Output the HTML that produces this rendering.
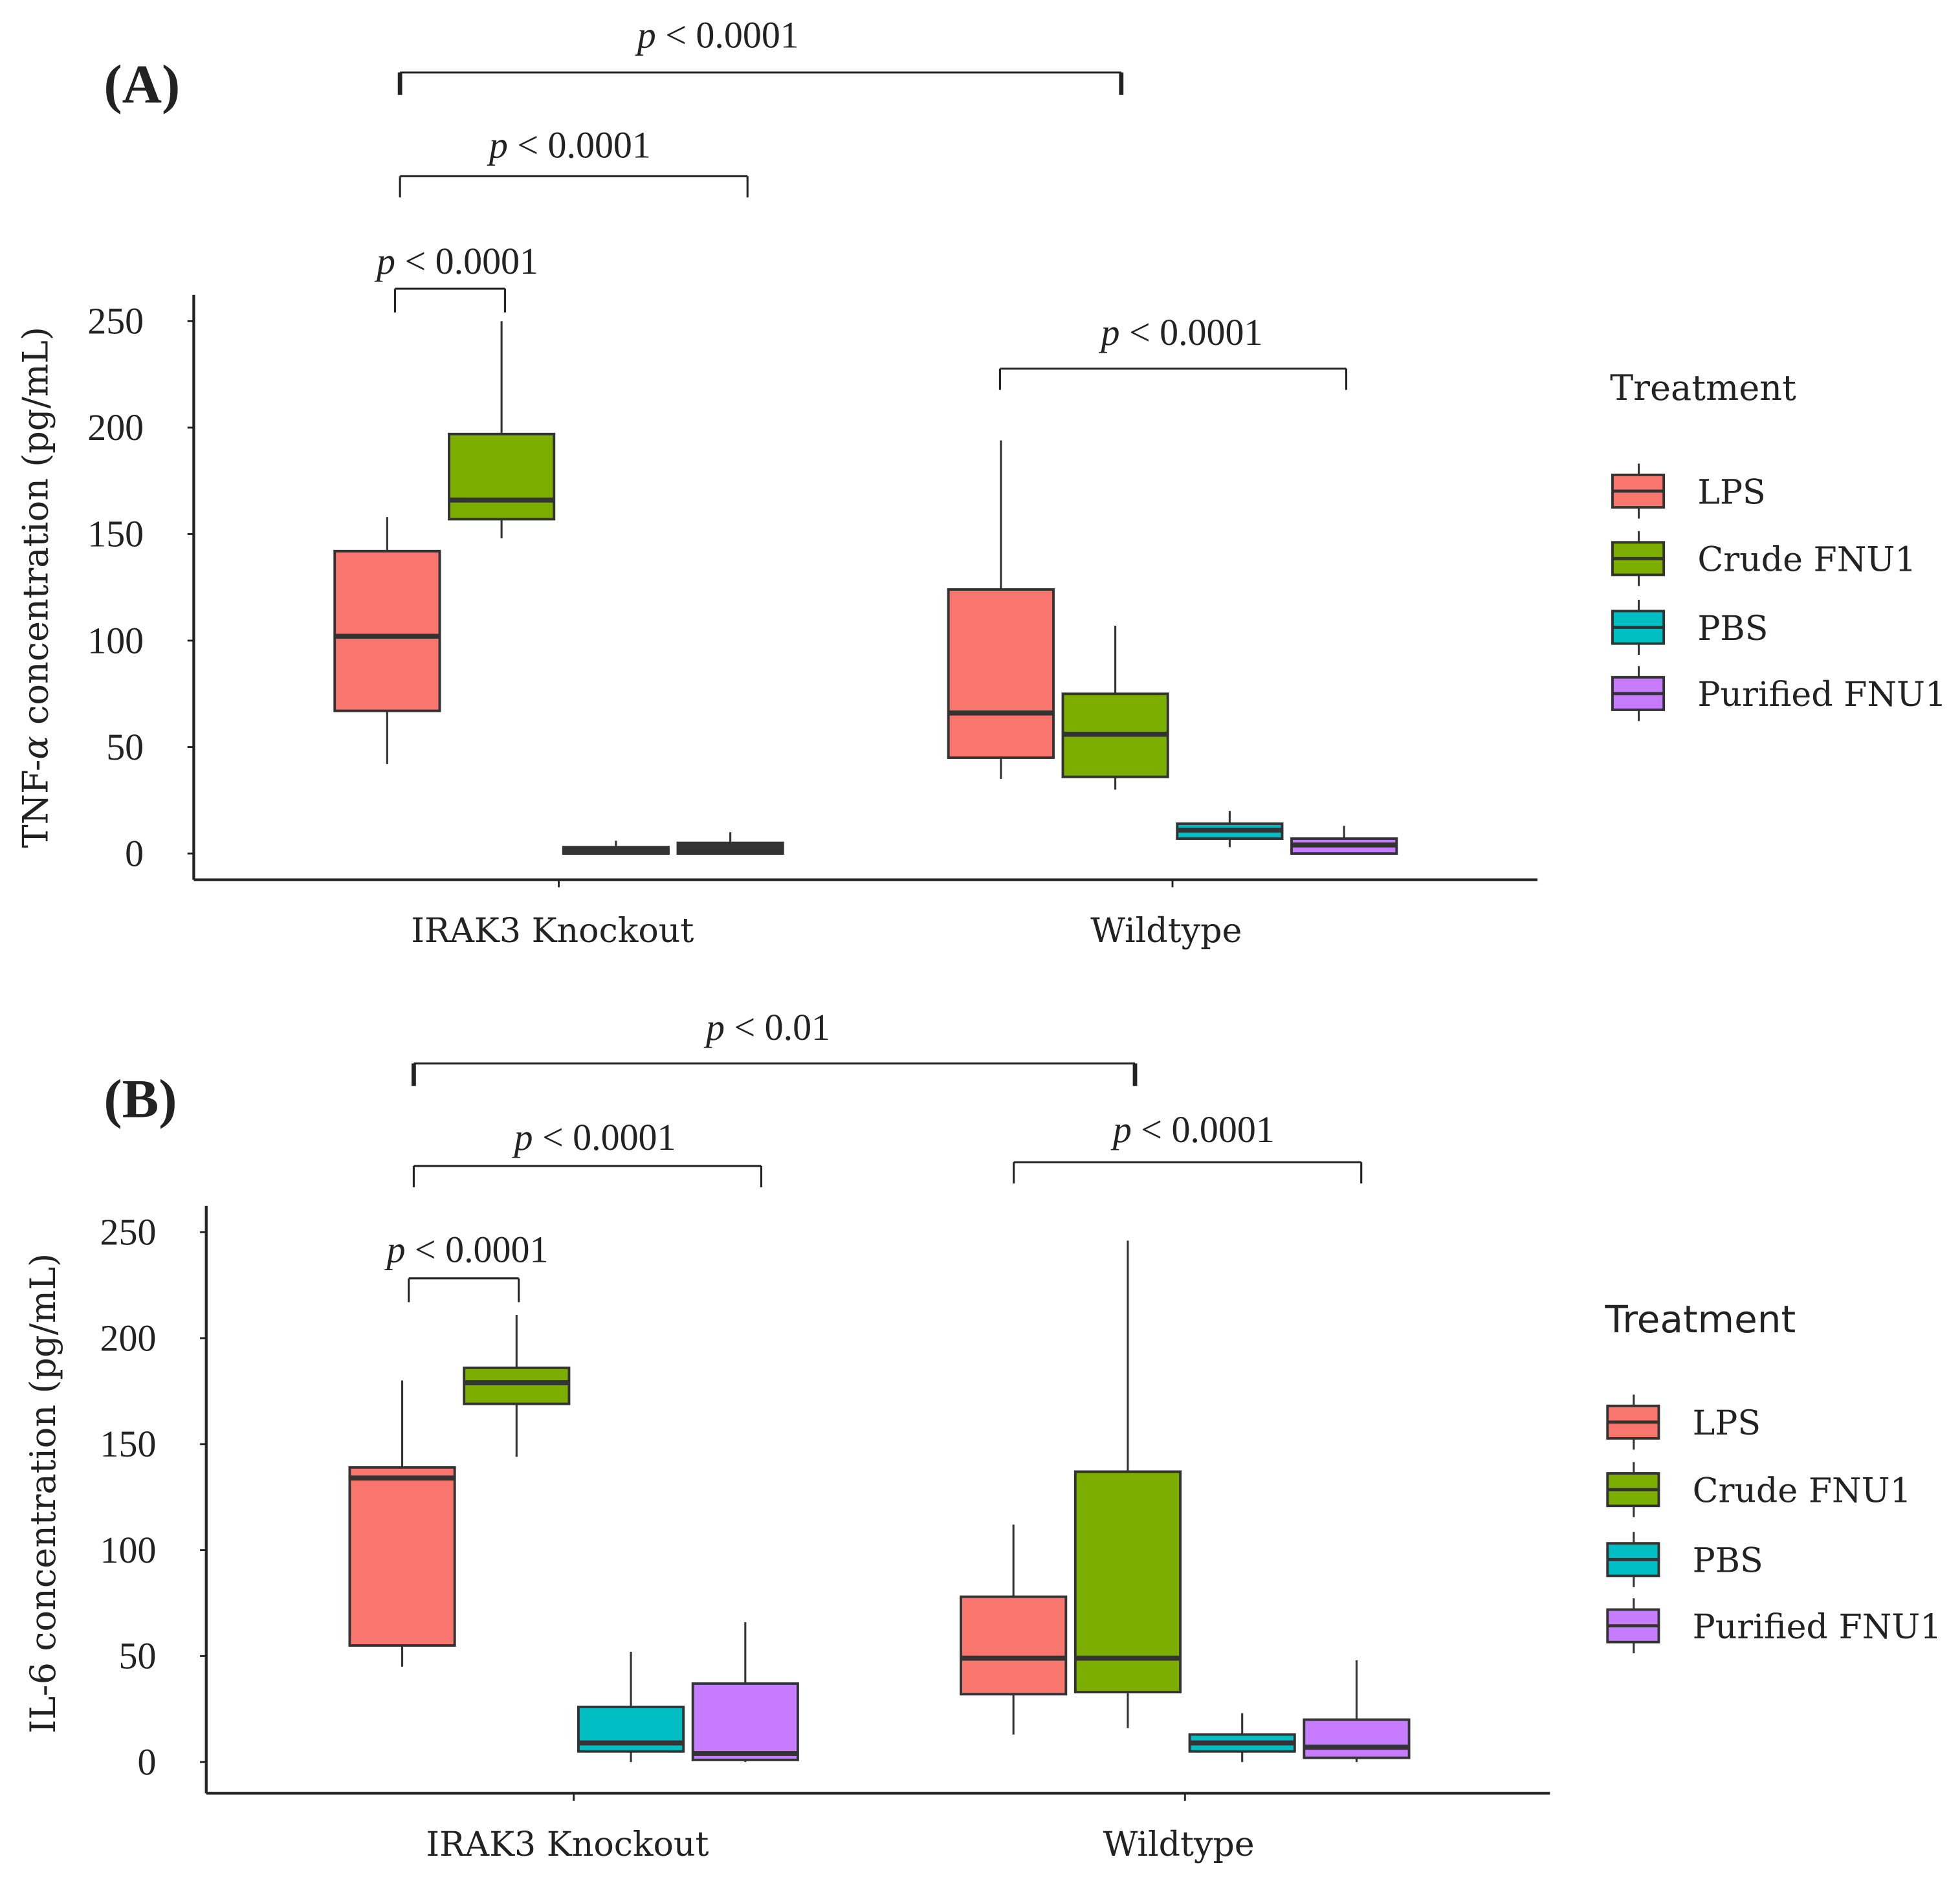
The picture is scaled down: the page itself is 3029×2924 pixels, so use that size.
<!DOCTYPE html>
<html><head><meta charset="utf-8"><style>
html,body{margin:0;padding:0;background:#fff;}
svg{display:block;}
text{font-family:"Liberation Serif",serif;fill:#222;}
.wide{font-family:"DejaVu Serif",serif;}
</style></head><body>
<svg id="fig" width="3029" height="2924" viewBox="0 0 1568 1514" preserveAspectRatio="none" xmlns="http://www.w3.org/2000/svg"></svg>
<script>
// ---- data ----
const categories = ["IRAK3 Knockout","Wildtype"];
const treatments = ["LPS","Crude FNU1","PBS","Purified FNU1"];
const colors = ["#F8766D","#7CAE00","#00BFC4","#C77CFF"];
const yTicks = [0,50,100,150,200,250];
// [whiskerLow, q1, median, q3, whiskerHigh] per group: KO x4, WT x4
const tnfKO = [[42,67,102,142,158],[148,157,166,197,250],[0,0,1.5,3,6],[0,0,2,5,10]];
const tnfWT = [[35,45,66,124,194],[30,36,56,75,107],[3,7,11,14,20],[0,0,4,7,13]];
const il6KO = [[45,55,134,139,180],[144,169,179,186,211],[0,5,9,26,52],[0,1,4,37,66]];
const il6WT = [[13,32,49,78,112],[16,33,49,137,246],[0,5,9,13,23],[0,2,7,20,48]];

const NS="http://www.w3.org/2000/svg";
const svg=document.getElementById('fig');
function mk(tag,attrs,parent,txt){const e=document.createElementNS(NS,tag);for(const k in attrs)e.setAttribute(k,attrs[k]);if(txt!==undefined)e.textContent=txt;(parent||svg).appendChild(e);return e;}

function panel(cfg){
  const g=mk('g',{});
  
  
  const y=v=>cfg.y0-(v/250)*(cfg.y0-cfg.y250);
  const x=(ci,ti)=>cfg.cx[ci]+(ti-1.5)*91.5;
  const ya=mk('line',{x1:cfg.axX,y1:cfg.axTop,x2:cfg.axX,y2:cfg.axBot,stroke:'#222','stroke-width':2.2},g);
  
  const xa=mk('line',{x1:cfg.axX,y1:cfg.axBot,x2:cfg.axRight,y2:cfg.axBot,stroke:'#222','stroke-width':2.2},g);
  
  yTicks.forEach(t=>{
    mk('line',{x1:cfg.axX-5,y1:y(t),x2:cfg.axX,y2:y(t),stroke:'#222','stroke-width':1.5},g);
    const tl=mk('text',{x:cfg.axX-40,y:y(t)+10,'text-anchor':'end','font-size':30},g,String(t));
    
  });
  categories.forEach((c,ci)=>{
    mk('line',{x1:cfg.cx[ci],y1:cfg.axBot,x2:cfg.cx[ci],y2:cfg.axBot+6,stroke:'#222','stroke-width':1.5},g);
    const cl=mk('text',{x:cfg.cx[ci]-5,y:cfg.axBot+50,'text-anchor':'middle','font-size':27,class:'wide'},g,c);
    
  });
  const yt=mk('text',{x:0,y:0,'text-anchor':'middle','font-size':cfg.ytSize,class:'wide',transform:`translate(${cfg.ytX},${cfg.ytY}) rotate(-90)`},g);
  yt.innerHTML=cfg.ytitle;
  
  [cfg.ko,cfg.wt].forEach((grp,ci)=>{
    grp.forEach((d,ti)=>{
      const cx=x(ci,ti),w=84;
      const bg=mk('g',{},g);
      
      
      const h=y(d[1])-y(d[3]);
      mk('line',{x1:cx,y1:y(d[0]),x2:cx,y2:y(d[4]),stroke:'#333','stroke-width':1.6},bg);
      mk('rect',{x:cx-w/2,y:y(d[3]),width:w,height:Math.max(h,4),fill:(cfg.darkSmall&&h<10)?'#333':colors[ti],stroke:'#333','stroke-width':2},bg);
      mk('line',{x1:cx-w/2,y1:y(d[2]),x2:cx+w/2,y2:y(d[2]),stroke:'#333','stroke-width':4},bg);
    });
  });
  cfg.brackets.forEach(b=>{
    const bg=mk('g',{},g);
    
    
    const sw=b.thick?3.5:1.6;
    mk('line',{x1:b.x1,y1:b.y,x2:b.x2,y2:b.y,stroke:'#222','stroke-width':1.6},bg);
    mk('line',{x1:b.x1,y1:b.y,x2:b.x1,y2:b.y2,stroke:'#222','stroke-width':sw},bg);
    mk('line',{x1:b.x2,y1:b.y,x2:b.x2,y2:b.y2,stroke:'#222','stroke-width':sw},bg);
    const t=mk('text',{x:(b.x1+b.x2)/2+(b.dx||0),y:b.ty,'text-anchor':'middle','font-size':30},bg);
    t.innerHTML='<tspan font-style="italic">p</tspan> &lt; '+b.label;
  });
  const pl=mk('text',{x:83,y:cfg.plY,'font-size':44,'font-weight':'bold'},g,cfg.plabel);
  
  const lg=mk('g',{},g);
  
  
  const lt=mk('text',{x:cfg.legX-2,y:cfg.legTitleY,'font-size':cfg.legSans?30:28,class:cfg.legSans?'':'wide',style:cfg.legSans?'font-family:"DejaVu Sans",sans-serif':''},lg,'Treatment');
  
  treatments.forEach((tr,i)=>{
    const ey=cfg.legY[i];
    const eg=mk('g',{},lg);
    
    
    const kx=cfg.legX+21;
    mk('line',{x1:kx,y1:ey-22,x2:kx,y2:ey+22,stroke:'#333','stroke-width':1.6},eg);
    mk('rect',{x:cfg.legX,y:ey-13,width:41,height:26,fill:colors[i],stroke:'#333','stroke-width':2},eg);
    mk('line',{x1:cfg.legX,y1:ey,x2:cfg.legX+41,y2:ey,stroke:'#333','stroke-width':2.5},eg);
    mk('text',{x:cfg.legX+68,y:ey+10,'font-size':27,class:'wide'},eg,tr);
  });
}

panel({name:'panel-a-tnf',y0:683,y250:257,axX:155,axTop:236,axBot:704,axRight:1230,cx:[447,938],darkSmall:true,
  ytX:38,ytY:470,ytSize:28,ytitle:'TNF-<tspan font-style="italic">α</tspan> concentration (pg/mL)',
  ko:tnfKO,wt:tnfWT,plabel:'(A)',plY:82,legX:1290,legTitleY:320,legY:[393,447,502,555],
  brackets:[
    {x1:320,x2:897,y:58,y2:76,ty:38,label:'0.0001',thick:true,dx:-34},
    {x1:320,x2:598,y:141,y2:158,ty:126,label:'0.0001',dx:-3},
    {x1:316,x2:404,y:231,y2:250,ty:219,label:'0.0001',dx:6},
    {x1:800,x2:1077,y:295,y2:312,ty:276,label:'0.0001',dx:7}
  ]});
panel({name:'panel-b-il6',y0:1410,y250:986,axX:165,axTop:965,axBot:1435,axRight:1240,cx:[459,948],
  ytX:44,ytY:1195,ytSize:28,ytitle:'IL-6 concentration (pg/mL)',
  ko:il6KO,wt:il6WT,plabel:'(B)',plY:894,legX:1286,legTitleY:1066,legSans:true,legY:[1138,1192,1248,1301],
  brackets:[
    {x1:331,x2:908,y:851,y2:869,ty:832,label:'0.01',thick:true,dx:-5},
    {x1:331,x2:609,y:933,y2:950,ty:920,label:'0.0001',dx:6},
    {x1:811,x2:1089,y:930,y2:947,ty:914,label:'0.0001',dx:5},
    {x1:327,x2:415,y:1023,y2:1042,ty:1010,label:'0.0001',dx:3}
  ]});
</script>
</body></html>
